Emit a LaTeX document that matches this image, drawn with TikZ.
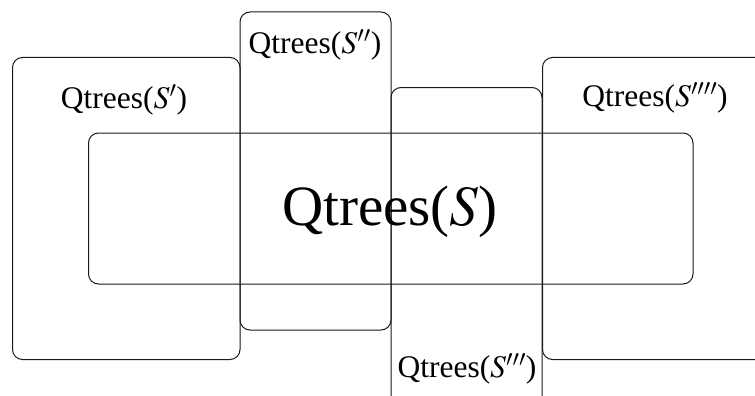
\documentclass[tikz,border=0pt]{standalone}
\usepackage{mathptmx}
\usepackage{fontspec}
\setmainfont{Liberation Serif}
\begin{document}
\begin{tikzpicture}[x=1pt,y=-1pt,
  region/.style={draw=black!90,line width=1pt,rounded corners=10pt},
  lbl/.style={font=\fontsize{31.5}{38}\selectfont,inner sep=0pt},
  biglbl/.style={font=\fontsize{57}{64}\selectfont,inner sep=0pt}]
\useasboundingbox (0,0) rectangle (755,396);
\clip (0,0) rectangle (755,396);
\draw[region] (12.5,57.5) rectangle (240,359.5);
\draw[region] (240,12) rectangle (391,330);
\draw[region] (391,87.5) rectangle (542,430);
\draw[region] (542.5,57.5) rectangle (800,359.5);
\draw[region] (88.5,133) rectangle (693,284);
\node[lbl] (l1) at (124,100) {Qtrees($S'$)};
\node[lbl] (l2) at (315,45) {Qtrees($S''$)};
\node[lbl] (l3) at (467,369) {Qtrees($S'''$)};
\node[lbl] (l4) at (655,98) {Qtrees($S''''$)};
\node[biglbl] (l0) at (390,212) {Qtrees($S$)};
\end{tikzpicture}
\end{document}
